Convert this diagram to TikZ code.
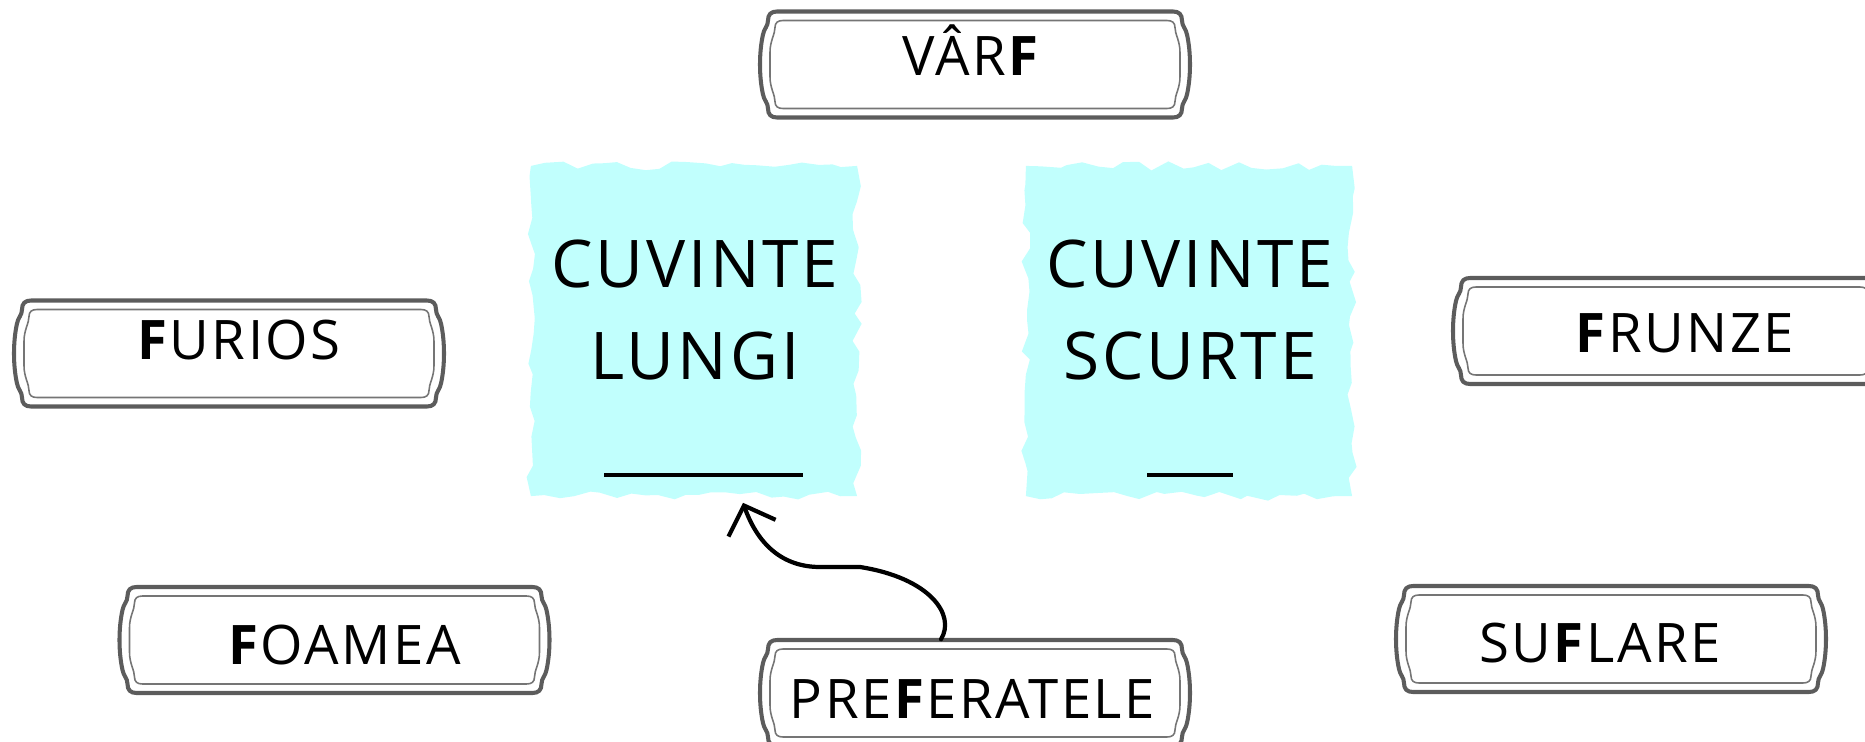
\documentclass[tikz,border=0pt]{standalone}
\usepackage{fontspec}
\setmainfont{Open Sans}[LetterSpace=4.5]
\usetikzlibrary{arrows.meta,calc,decorations.pathmorphing}
\definecolor{paintcyan}{HTML}{C1FFFD}
\definecolor{framegray}{HTML}{5C5C5C}
\tikzset{
  plaque/.style={minimum width=43.2mm,minimum height=10.6mm,inner sep=0pt},
  word/.style={anchor=base,inner sep=0pt,font=\fontsize{15.5}{18}\selectfont},
  title/.style={align=center,inner sep=0pt,font=\fontsize{18.7}{26.2}\selectfont},
  paint/.style={fill=paintcyan,minimum width=32.6mm,minimum height=33mm,decorate,
    decoration={random steps,segment length=4pt,amplitude=1.3pt}},
  blank/.style={line width=1.4pt},
  swoop/.style={line width=1.2pt,line cap=round,-{Straight Barb[length=2.4mm,width=5mm]}},
  pics/frame/.style={code={
    % outer thick outline
    \draw[framegray,line width=1.15pt,line join=round]
      (-198,-53) -- (198,-53)
      .. controls (204,-53) and (207,-50) .. (207,-44)
      .. controls (207,-38) and (211,-36) .. (212,-30)
      .. controls (216,-12) and (216,12) .. (212,30)
      .. controls (211,36) and (207,38) .. (207,44)
      .. controls (207,50) and (204,53) .. (198,53)
      -- (-198,53)
      .. controls (-204,53) and (-207,50) .. (-207,44)
      .. controls (-207,38) and (-211,36) .. (-212,30)
      .. controls (-216,12) and (-216,-12) .. (-212,-30)
      .. controls (-211,-36) and (-207,-38) .. (-207,-44)
      .. controls (-207,-50) and (-204,-53) .. (-198,-53) -- cycle;
    % inner thin outline
    \draw[framegray!85,line width=0.45pt]
      (-192,-44) -- (192,-44)
      .. controls (197,-44) and (200,-42) .. (200,-37)
      .. controls (200,-30) and (205,-24) .. (205,-12)
      -- (205,12)
      .. controls (205,24) and (200,30) .. (200,37)
      .. controls (200,42) and (197,44) .. (192,44)
      -- (-192,44)
      .. controls (-197,44) and (-200,42) .. (-200,37)
      .. controls (-200,30) and (-205,24) .. (-205,12)
      -- (-205,-12)
      .. controls (-205,-24) and (-200,-30) .. (-200,-37)
      .. controls (-200,-42) and (-197,-44) .. (-192,-44) -- cycle;
  }},
}
\pgfmathsetseed{7}
\begin{document}
\begin{tikzpicture}[x=0.01cm,y=-0.01cm]
  \useasboundingbox (0,0) rectangle (1865,742);

  % painted squares
  \node[paint] (lungiPaint) at (694,331) {};
  \node[paint] (scurtePaint) at (1189,331) {};
  \node[title] (lungi) at (695,310) {CUVINTE\\LUNGI};
  \node[title] (scurte) at (1190,310) {CUVINTE\\SCURTE};
  \draw[blank] (604,475) -- (803,475);
  \draw[blank] (1147,475) -- (1233,475);

  % word plaques
  \foreach \n/\x/\y in {varfBox/975/64.5,furiosBox/229/353.5,frunzeBox/1668/331,
                        foameaBox/334.5/640,suflareBox/1611/639,prefBox/975/693}
  {
    \node[plaque] (\n) at (\x,\y) {};
    \pic at (\n) {frame};
  }
  \node[word] (varf) at (971.5,75) {VÂR\textbf{F}};
  \node[word] (furios) at (239,359) {\textbf{F}URIOS};
  \node[word] (frunze) at (1685,352) {\textbf{F}RUNZE};
  \node[word] (foamea) at (344.5,664) {\textbf{F}OAMEA};
  \node[word] (suflare) at (1600,662) {SU\textbf{F}LARE};
  \node[word] (pref) at (972.5,718) {PRE\textbf{F}ERATELE};

  \draw[swoop] ($(prefBox.north)+(-34,0)$)
    .. controls (956,615) and (930,578) .. (860,567) -- (820,567)
    .. controls (783,567) and (758,545) .. ($(lungiPaint.south)+(49,6)$);
\end{tikzpicture}
\end{document}
